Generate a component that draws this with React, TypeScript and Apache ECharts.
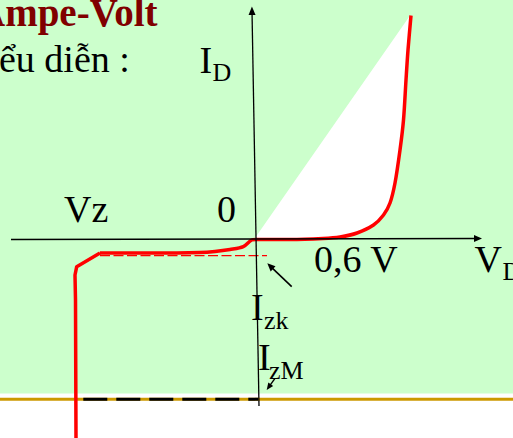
import React, { useEffect, useRef } from "react";
import * as echarts from "echarts";

// Coordinates: x = units right of the origin, y = units above the origin (1 unit ≈ 1 px)
const forwardCurve: [number, number][] = [
  [157, 223.5], [154, 189], [152, 159], [149.5, 119], [146, 89], [141, 56],
  [136, 36], [129.5, 24], [119.5, 14], [103, 6], [86, 2], [69, 0.5],
  [36, -0.5], [16, -0.5], [2, -0.5], [-2.3, -1], [-10.7, -7.7], [-24, -10.5],
  [-39, -12.5], [-54, -13.5], [-104, -14], [-154, -14],
];
const reverseCurve: [number, number][] = [
  [-154, -14], [-177.3, -27.7], [-179, -36], [-178.5, -61], [-178, -199],
];
const whiteEdge: [number, number][] = [[1, 1], [155, 222]];
const izkDash: [number, number][] = [[-154, -16.7], [13, -16.7]];
const izmDash: [number, number][] = [[-170.7, -160.2], [4, -160.2]];
const hAxis: [number, number][] = [[-243, -0.5], [224, 0.5]];
const vAxis: [number, number][] = [[5, -167], [-2, 228.3]];
const izkArrow: [number, number][] = [[37.7, -47.7], [16.2, -27.1]];
const izmArrow: [number, number][] = [[21, -139.3], [14.7, -148.1]];

const FONT = '"Liberation Serif", "Times New Roman", serif';

function txt(text: string, x: number, y: number, size: number, opts: any = {}) {
  return {
    type: "text",
    x,
    y,
    z: 10,
    style: {
      text,
      fill: opts.fill || "#000",
      font: `${opts.bold ? "bold " : ""}${size}px ${FONT}`,
      align: "left",
      verticalAlign: "middle",
      textAlign: "left",
      textVerticalAlign: "middle",
    },
  };
}

export default function App() {
  const ref = useRef<HTMLDivElement>(null);
  useEffect(() => {
    if (!ref.current) return;
    const chart = echarts.init(ref.current, undefined, { renderer: "svg" });
    const polygonPts = [whiteEdge[0], whiteEdge[1], ...forwardCurve.filter((p) => p[0] >= 2)];
    const arrowLine = (pts: [number, number][], size: number[], width: number) => [
      { coord: pts[0], symbol: "none" },
      { coord: pts[1], symbol: "triangle", symbolSize: size, lineStyle: { width } },
    ];
    chart.setOption({
      animation: false,
      backgroundColor: "#ffffff",
      grid: { left: 0, top: 0, width: 513, height: 438, show: false },
      xAxis: { type: "value", min: -254, max: 259, show: false },
      yAxis: { type: "value", min: -199, max: 239, show: false },
      graphic: [
        { type: "rect", z: 0, shape: { x: 0, y: 0, width: 513, height: 393.5 }, style: { fill: "#CCFFCC" } },
        { type: "rect", z: 0, shape: { x: 0, y: 397.7, width: 513, height: 3 }, style: { fill: "#CC9900" } },
        txt("Ampe-Volt", -23, 12.8, 39, { bold: true, fill: "#800000" }),
        txt("ểu diễn :", -1, 59.2, 38),
        txt("I", 199.5, 59.9, 38),
        txt("D", 212.5, 72.9, 26),
        txt("Vz", 64, 208.9, 38),
        txt("0", 217, 208.9, 38),
        txt("0,6 V", 314, 258.9, 38),
        txt("V", 474.5, 258.9, 38),
        txt("D", 502.5, 271.9, 26),
        txt("I", 251, 307.2, 38),
        txt("zk", 264, 320.5, 26),
        txt("I", 258, 357.2, 38),
        txt("zM", 269, 370.2, 26),
      ],
      series: [
        {
          type: "custom",
          z: 1,
          silent: true,
          data: [[0, 0]],
          renderItem: (_p: any, api: any) => ({
            type: "polygon",
            shape: { points: polygonPts.map((p) => api.coord(p)) },
            style: { fill: "#ffffff" },
          }),
        },
        {
          type: "line",
          z: 3,
          data: forwardCurve,
          smooth: 0.3,
          symbol: "none",
          clip: false,
          lineStyle: { color: "#FF0000", width: 3.5 },
        },
        {
          type: "line",
          z: 3,
          data: reverseCurve,
          symbol: "none",
          clip: false,
          lineStyle: { color: "#FF0000", width: 3.5, join: "round" },
        },
        {
          type: "line",
          z: 2,
          data: izkDash,
          symbol: "none",
          clip: false,
          lineStyle: { color: "#FF0000", width: 1.3, type: [10, 3.5] },
        },
        {
          type: "line",
          z: 2,
          data: izmDash,
          symbol: "none",
          clip: false,
          lineStyle: { color: "#000000", width: 3, type: [24, 9], cap: "butt" },
        },
        {
          type: "line",
          z: 4,
          data: [],
          markLine: {
            silent: true,
            animation: false,
            label: { show: false },
            lineStyle: { color: "#000000", width: 1.3, type: "solid" },
            itemStyle: { color: "#000000" },
            data: [
              arrowLine(hAxis, [7, 8], 1.3),
              arrowLine(vAxis, [7, 8.5], 1.3),
              arrowLine(izkArrow, [7, 8], 1.6),
              arrowLine(izmArrow, [6, 7], 1.4),
            ],
          },
        },
      ],
    });
    return () => chart.dispose();
  }, []);
  return (
    <div
      ref={ref}
      style={{ position: "absolute", left: 0, top: 0, width: 513, height: 438 }}
    />
  );
}
